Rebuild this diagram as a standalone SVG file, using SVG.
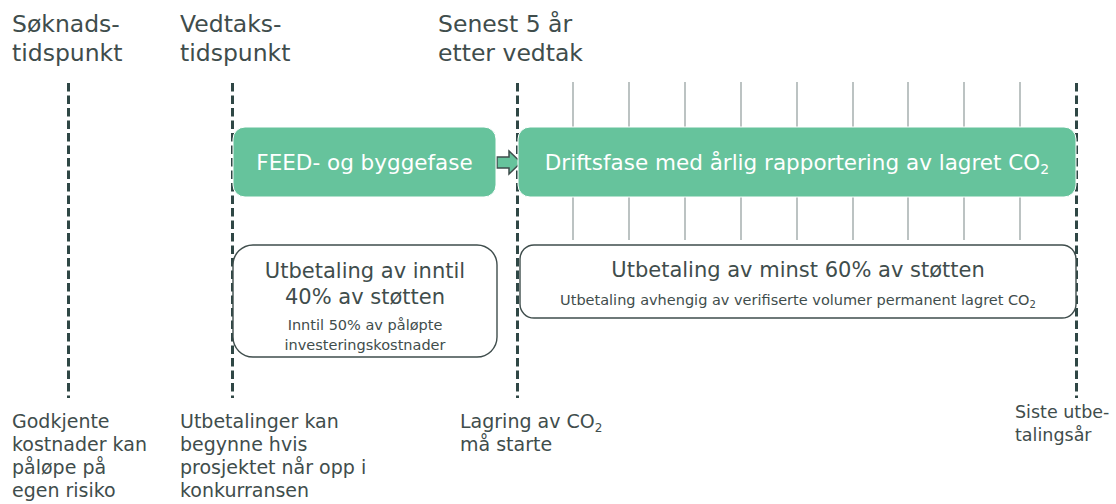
<svg xmlns="http://www.w3.org/2000/svg" width="1116" height="504" viewBox="0 0 1116 504">
<style>
text{font-family:"DejaVu Sans","Liberation Sans",sans-serif;fill:#3f4d4c}
.top{font-size:23.5px}
.bot{font-size:19px}
.bot2{font-size:17.5px}
.wt{fill:#ffffff;font-size:21.5px}
.big{font-size:21px}
.sm{font-size:14.5px}
.dash{stroke:#2f4745;stroke-width:3;stroke-dasharray:8.5 4;fill:none}
.thin{stroke:#8f9b9a;stroke-width:1.2;fill:none}
.green{fill:#66c39c;stroke:#ffffff;stroke-width:1}
.white{fill:#ffffff;stroke:#3f4d4c;stroke-width:1.4}
</style>
<rect width="1116" height="504" fill="#ffffff"/>
<g id="connectors">
<line class="thin" x1="573" y1="82" x2="573" y2="240"/>
<line class="thin" x1="629" y1="82" x2="629" y2="240"/>
<line class="thin" x1="685" y1="82" x2="685" y2="240"/>
<line class="thin" x1="741" y1="82" x2="741" y2="240"/>
<line class="thin" x1="797" y1="82" x2="797" y2="240"/>
<line class="thin" x1="853" y1="82" x2="853" y2="240"/>
<line class="thin" x1="908" y1="82" x2="908" y2="240"/>
<line class="thin" x1="964" y1="82" x2="964" y2="240"/>
<line class="thin" x1="1020" y1="82" x2="1020" y2="240"/>
<line class="dash" x1="68.5" y1="83" x2="68.5" y2="398"/>
<line class="dash" x1="232.5" y1="83" x2="232.5" y2="398"/>
<line class="dash" x1="517.5" y1="83" x2="517.5" y2="398"/>
<line class="dash" x1="1076.5" y1="83" x2="1076.5" y2="398"/>
<polygon points="497,157 509,157 509,151 521,162.5 509,174 509,168 497,168" fill="#66c39c" stroke="#3f4d4c" stroke-width="1.5" stroke-linejoin="miter"/>
</g>
<g id="label-soknad">
<text class="top" x="12" y="32">Søknads-</text>
<text class="top" x="12" y="61">tidspunkt</text>
</g>
<g id="label-vedtak">
<text class="top" x="180" y="32">Vedtaks-</text>
<text class="top" x="180" y="61">tidspunkt</text>
</g>
<g id="label-senest">
<text class="top" x="438" y="32">Senest 5 år</text>
<text class="top" x="438" y="61">etter vedtak</text>
</g>
<g id="feed">
<rect class="green" x="233" y="127" width="263" height="70" rx="12"/>
<text class="wt" x="364.5" y="170" text-anchor="middle">FEED- og byggefase</text>
</g>
<g id="drift">
<rect class="green" x="518" y="127" width="558" height="70" rx="12"/>
<text class="wt" x="797" y="170" text-anchor="middle">Driftsfase med årlig rapportering av lagret CO<tspan font-size="14" dy="4">2</tspan></text>
</g>
<g id="utbetaling-40">
<rect class="white" x="233" y="245" width="264" height="112" rx="20"/>
<text class="big" x="365" y="278" text-anchor="middle">Utbetaling av inntil</text>
<text class="big" x="365" y="304" text-anchor="middle">40% av støtten</text>
<text class="sm" x="365" y="330" text-anchor="middle">Inntil 50% av påløpte</text>
<text class="sm" x="365" y="350" text-anchor="middle">investeringskostnader</text>
</g>
<g id="utbetaling-60">
<rect class="white" x="520" y="245" width="556" height="73" rx="14"/>
<text class="big" x="798" y="277" text-anchor="middle">Utbetaling av minst 60% av støtten</text>
<text class="sm" x="798" y="305" text-anchor="middle">Utbetaling avhengig av verifiserte volumer permanent lagret CO<tspan font-size="10" dy="3">2</tspan></text>
</g>
<g id="note-soknad">
<text class="bot" x="12" y="428">Godkjente</text>
<text class="bot" x="12" y="451">kostnader kan</text>
<text class="bot" x="12" y="474">påløpe på</text>
<text class="bot" x="12" y="497">egen risiko</text>
</g>
<g id="note-vedtak">
<text class="bot" x="180" y="428">Utbetalinger kan</text>
<text class="bot" x="180" y="451">begynne hvis</text>
<text class="bot" x="180" y="474">prosjektet når opp i</text>
<text class="bot" x="180" y="497">konkurransen</text>
</g>
<g id="note-lagring">
<text class="bot" x="460" y="428">Lagring av CO<tspan font-size="12" dy="4">2</tspan></text>
<text class="bot" x="460" y="451">må starte</text>
</g>
<g id="note-siste">
<text class="bot2" x="1015" y="418">Siste utbe-</text>
<text class="bot2" x="1015" y="441">talingsår</text>
</g>
</svg>
